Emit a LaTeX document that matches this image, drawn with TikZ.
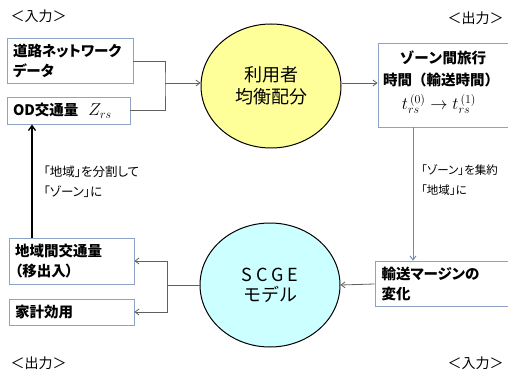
\documentclass[tikz,border=0pt]{standalone}
\usepackage{fontspec}
\usetikzlibrary{arrows.meta,shapes.geometric,calc}
\newfontfamily\jp{Noto Sans CJK JP}
\newfontfamily\jpp[RawFeature=+palt]{Noto Sans CJK JP}
\definecolor{boxline}{HTML}{8EA2C8}
\definecolor{conn}{HTML}{606060}
\definecolor{vconn}{HTML}{6F86B8}
\definecolor{yfill}{HTML}{FFFF99}
\definecolor{cfill}{HTML}{CCFFFF}
\tikzset{
  box/.style={draw=boxline, line width=0.9pt, fill=white, inner sep=6pt, font=\jpp\bfseries\fontsize{14.5}{20}\selectfont},
  lbox/.style={box, align=left, text width=#1},
  btext/.style={inner sep=0pt, font=\jp\bfseries\fontsize{14.5}{20}\selectfont},
  circ/.style={ellipse, draw=black, line width=1pt, minimum width=140pt, minimum height=124pt, font=\jp\fontsize{18}{22}\selectfont, align=center},
  con/.style={draw=conn, line width=0.8pt},
  arr/.style={con, -{Straight Barb[length=4pt,width=6pt]}},
  lab/.style={anchor=west, font=\jp\fontsize{14}{16}\selectfont},
  note/.style={anchor=west, align=left, font=\jpp\fontsize{12.5}{20}\selectfont}
}
\begin{document}
\begin{tikzpicture}[x=1pt,y=-1pt]
\useasboundingbox (0,0) rectangle (508,374);
\clip (0,0) rectangle (508,374);
% labels
\node[lab] (l1) at (7,16) {＜入力＞};
\node[lab] (l2) at (444,18) {＜出力＞};
\node[lab] (l3) at (7,363) {＜出力＞};
\node[lab] (l4) at (444,363) {＜入力＞};
% boxes
\node[lbox=114pt, minimum width=126pt, minimum height=44pt] (b1) at (70,61) {道路ネットワーク\\データ};
\node[lbox=111pt, minimum width=123pt, minimum height=27pt, inner ysep=2pt] (b2) at (68.5,110.5) {OD交通量\hspace{10pt}{\mdseries\fontsize{17}{17}\selectfont$Z_{rs}$}};
\node[box, minimum width=134pt, minimum height=84pt] (b3) at (445,85) {};
\node[btext] (t1) at (443,58) {ゾーン間旅行};
\node[btext] (t2) at (441,80) {時間（輸送時間）};
\node[btext, font=\fontsize{18}{18}\selectfont] (t3) at (439,104) {$t_{rs}^{\,(0)}\rightarrow t_{rs}^{\,(1)}$};
\node[lbox=124pt, minimum width=137pt, minimum height=44pt] (b4) at (443.5,284) {輸送マージンの\\変化};
\node[lbox=113pt, minimum width=125pt, minimum height=44pt] (b5) at (71.5,261) {地域間交通量\\（移出入）};
\node[lbox=113pt, minimum width=125pt, minimum height=26pt, inner ysep=2pt] (b6) at (71.5,312) {家計効用};
% circles
\node[circ, fill=yfill] (c1) at (271,86) {利用者\\均衡配分};
\node[circ, fill=cfill] (c2) at (270,285) {S\hspace{4pt}C\hspace{4pt}G\hspace{4pt}E\\[-2pt]モデル};
% top-left connectors
\coordinate (j1) at (165,83);
\draw[con] (b1.east) -| (j1) |- (b2.east);
\draw[arr] (j1) -- (j1 -| c1.west);
% circle to right box
\draw[arr] (c1.east |- j1) -- (b3.west |- j1);
% vertical
\coordinate (v1) at (413,127);
\draw[draw=vconn, line width=0.9pt, -{Straight Barb[length=4pt,width=6pt]}] (v1) -- (v1 |- b4.north);
% bottom right to circle
\draw[arr] (b4.west) -- (c2.east);
% bottom left
\coordinate (j2) at (167,285);
\draw[con] (c2.west) -- (j2);
\draw[arr] (j2) |- (b5.east);
\draw[arr] (j2) |- (b6.east);
% black arrow up
\coordinate (ax) at (32,200);
\draw[black, line width=1.3pt, -{Straight Barb[length=5pt,width=7pt]}] (ax |- b5.north) -- (ax |- b2.south);
% notes
\node[note] (n1) at (40,182) {「地域」を分割して\\「ゾーン」に};
\node[note, font=\jpp\fontsize{11.5}{20}\selectfont, inner sep=0pt] (n2) at (421,180) {「ゾーン」を集約\\「地域」に};
\end{tikzpicture}
\end{document}
